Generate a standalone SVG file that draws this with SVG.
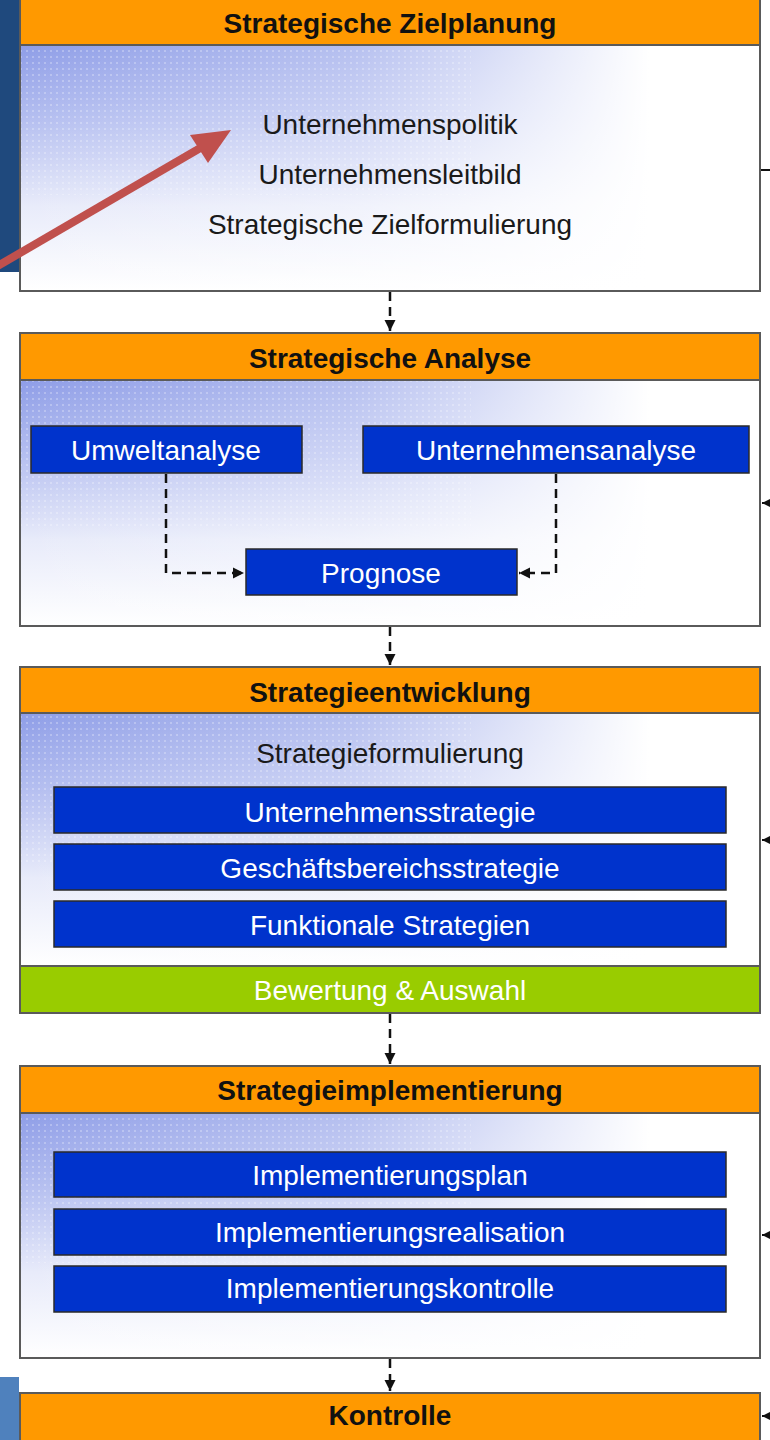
<svg xmlns="http://www.w3.org/2000/svg" width="770" height="1440" viewBox="0 0 770 1440">
<defs>
<linearGradient id="bgv" x1="0" y1="0" x2="0" y2="1">
<stop offset="0" stop-color="#8E9DE7"/>
<stop offset="0.3" stop-color="#B4BEF0"/>
<stop offset="0.65" stop-color="#E8EBFA"/>
<stop offset="1" stop-color="#FFFFFF"/>
</linearGradient>
<linearGradient id="bgh" x1="0" y1="0" x2="1" y2="0">
<stop offset="0" stop-color="#FFFFFF" stop-opacity="0"/>
<stop offset="0.45" stop-color="#FFFFFF" stop-opacity="0.35"/>
<stop offset="0.85" stop-color="#FFFFFF" stop-opacity="1"/>
<stop offset="1" stop-color="#FFFFFF" stop-opacity="1"/>
</linearGradient>
<pattern id="dots" width="6" height="6" patternUnits="userSpaceOnUse">
<circle cx="3" cy="3" r="1" fill="#FFFFFF" fill-opacity="0.35"/>
</pattern>
<marker id="ah" viewBox="0 0 10 10" refX="10" refY="5" markerWidth="4.5" markerHeight="4.5" orient="auto" markerUnits="strokeWidth">
<path d="M0,0 L10,5 L0,10 z" fill="#111"/>
</marker>
</defs>
<style>
.frame{fill:url(#bgv);stroke:none}
.fade{fill:url(#bgh);stroke:none}
.edge{fill:none;stroke:#5a5a5a;stroke-width:2}
.tex{fill:url(#dots);stroke:none}
.hdr{fill:#FF9900;stroke:#5a5a5a;stroke-width:2}
.green{fill:#99CC00;stroke:#5a5a5a;stroke-width:2}
.bar{fill:#0033CC;stroke:#2a2a2a;stroke-width:1.5}
.ht{font-family:"Liberation Sans",Arial,sans-serif;font-weight:bold;font-size:28px;fill:#111;text-anchor:middle}
.bt{font-family:"Liberation Sans",Arial,sans-serif;font-size:28px;fill:#1a1a1a;text-anchor:middle}
.wt{font-family:"Liberation Sans",Arial,sans-serif;font-size:28px;fill:#FFFFFF;text-anchor:middle}
.dash{fill:none;stroke:#111;stroke-width:2.5;stroke-dasharray:9 6}
.solid{fill:none;stroke:#111;stroke-width:2}
</style>

<rect x="0" y="0" width="19" height="272" fill="#1F497D"/>
<rect x="0" y="1377" width="19" height="63" fill="#4F81BD"/>

<g id="zielplanung">
<rect class="frame" x="20" y="45" width="740" height="246"/>
<rect class="tex" x="21" y="45" width="450" height="150"/>
<rect class="fade" x="20" y="45" width="740" height="246"/>
<rect class="edge" x="20" y="0" width="740" height="291"/>
<rect class="hdr" x="20" y="-2" width="740" height="47"/>
<text class="ht" x="390" y="33">Strategische Zielplanung</text>
<text class="bt" x="390" y="134">Unternehmenspolitik</text>
<text class="bt" x="390" y="184">Unternehmensleitbild</text>
<text class="bt" x="390" y="234">Strategische Zielformulierung</text>
</g>

<g id="analyse">
<rect class="frame" x="20" y="380" width="740" height="246"/>
<rect class="tex" x="21" y="380" width="450" height="150"/>
<rect class="fade" x="20" y="380" width="740" height="246"/>
<rect class="edge" x="20" y="333" width="740" height="293"/>
<rect class="hdr" x="20" y="333" width="740" height="47"/>
<text class="ht" x="390" y="368">Strategische Analyse</text>
</g>
<g id="umweltanalyse">
<rect class="bar" x="31" y="426" width="271" height="47"/>
<text class="wt" x="166" y="460">Umweltanalyse</text>
</g>
<g id="unternehmensanalyse">
<rect class="bar" x="363" y="426" width="386" height="47"/>
<text class="wt" x="556" y="460">Unternehmensanalyse</text>
</g>
<g id="prognose">
<rect class="bar" x="246" y="549" width="271" height="46"/>
<text class="wt" x="381" y="583">Prognose</text>
</g>

<g id="strategieentwicklung">
<rect class="frame" x="20" y="713" width="740" height="254"/>
<rect class="tex" x="21" y="713" width="450" height="150"/>
<rect class="fade" x="20" y="713" width="740" height="254"/>
<rect class="edge" x="20" y="667" width="740" height="300"/>
<rect class="hdr" x="20" y="667" width="740" height="46"/>
<text class="ht" x="390" y="702">Strategieentwicklung</text>
<text class="bt" x="390" y="763">Strategieformulierung</text>
<rect class="bar" x="54" y="787" width="672" height="46"/>
<text class="wt" x="390" y="822">Unternehmensstrategie</text>
<rect class="bar" x="54" y="844" width="672" height="46"/>
<text class="wt" x="390" y="878">Geschäftsbereichsstrategie</text>
<rect class="bar" x="54" y="901" width="672" height="46"/>
<text class="wt" x="390" y="935">Funktionale Strategien</text>
<rect class="green" x="20" y="966" width="740" height="47"/>
<text class="wt" x="390" y="1000">Bewertung &amp; Auswahl</text>
</g>

<g id="implementierung">
<rect class="frame" x="20" y="1113" width="740" height="245"/>
<rect class="tex" x="21" y="1113" width="450" height="150"/>
<rect class="fade" x="20" y="1113" width="740" height="245"/>
<rect class="edge" x="20" y="1066" width="740" height="292"/>
<rect class="hdr" x="20" y="1066" width="740" height="47"/>
<text class="ht" x="390" y="1100">Strategieimplementierung</text>
<rect class="bar" x="54" y="1152" width="672" height="45"/>
<text class="wt" x="390" y="1185">Implementierungsplan</text>
<rect class="bar" x="54" y="1209" width="672" height="46"/>
<text class="wt" x="390" y="1242">Implementierungsrealisation</text>
<rect class="bar" x="54" y="1266" width="672" height="46"/>
<text class="wt" x="390" y="1298">Implementierungskontrolle</text>
</g>

<g id="kontrolle">
<rect class="hdr" x="20" y="1393" width="740" height="52"/>
<text class="ht" x="390" y="1425">Kontrolle</text>
</g>

<g id="connectors">
<path class="dash" d="M390,292 V331" marker-end="url(#ah)"/>
<path class="dash" d="M390,627 V665" marker-end="url(#ah)"/>
<path class="dash" d="M390,1014 V1064" marker-end="url(#ah)"/>
<path class="dash" d="M390,1359 V1391" marker-end="url(#ah)"/>
<path class="dash" d="M166,474 V573 H244" marker-end="url(#ah)"/>
<path class="dash" d="M556,474 V573 H519" marker-end="url(#ah)"/>
<path class="solid" d="M761,170 H770"/>
<path class="solid" d="M772,503 H762" marker-end="url(#ah)"/>
<path class="solid" d="M772,840 H762" marker-end="url(#ah)"/>
<path class="solid" d="M772,1235 H762" marker-end="url(#ah)"/>
<path class="solid" d="M772,1416 H762" marker-end="url(#ah)"/>
</g>

<g id="highlight-arrow">
<line x1="-4" y1="267" x2="202" y2="147" stroke="#C0504D" stroke-width="8"/>
<polygon points="231,130 208,163 190,135" fill="#C0504D"/>
</g>
</svg>
